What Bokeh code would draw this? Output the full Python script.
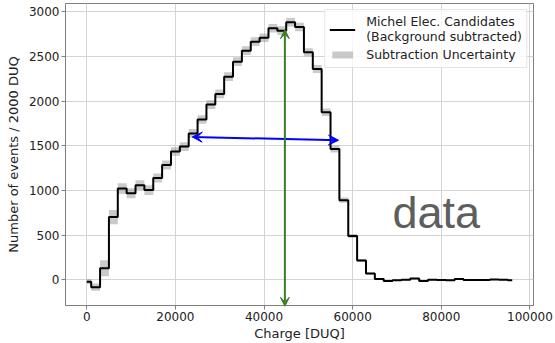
from bokeh.plotting import figure
from bokeh.models import (Range1d, FixedTicker, Legend, LegendItem, Arrow,
                          VeeHead, Label, BasicTickFormatter)
from bokeh.embed import file_html
from bokeh.resources import INLINE

# Histogram of Michel electron candidate charge, 2000 DUQ bins (bin centres)
bin_centers = list(range(0, 96001, 2000))
counts = [
    -20, -82, 130, 703, 1022, 970, 1060, 1005, 1140, 1285,
    1438, 1492, 1640, 1795, 1962, 2082, 2275, 2443, 2566, 2667,
    2711, 2816, 2790, 2885, 2830, 2548, 2361, 1877, 1465, 892,
    492, 218, 70, 10, -12, -3, 2, 15, -12, 2,
    -2, -5, 10, -2, -2, -2, 5, 0, -3,
]
# Half-width of the background-subtraction uncertainty per bin
uncertainty = [
    30, 40, 90, 80, 60, 55, 55, 55, 50, 50,
    48, 48, 48, 48, 48, 48, 48, 48, 48, 48,
    48, 48, 48, 48, 48, 45, 45, 42, 38, 30,
    22, 15, 10, 5, 5, 5, 5, 5, 5, 5,
    5, 5, 5, 5, 5, 5, 5, 5, 5,
]
x_ticks = [0, 20000, 40000, 60000, 80000, 100000]
y_ticks = [0, 500, 1000, 1500, 2000, 2500, 3000]

# Width markers: horizontal span and vertical peak position
width_arrow = dict(x_start=23800, y_start=1600, x_end=56800, y_end=1563)
peak_arrow = dict(x=44700, y_top=2800, y_bottom=-295)

band_lo = [c - u for c, u in zip(counts, uncertainty)]
band_hi = [c + u for c, u in zip(counts, uncertainty)]

FONT = "DejaVu Sans"

p = figure(width=555, height=343, output_backend="svg", toolbar_location=None,
           x_range=Range1d(-4800, 100800), y_range=Range1d(-287, 3094),
           min_border_left=65, min_border_right=22, min_border_top=3,
           min_border_bottom=37)

band = p.varea_step(x=bin_centers, y1=band_lo, y2=band_hi, step_mode="center",
                    fill_color="#808080", fill_alpha=0.42)
line = p.step(x=bin_centers, y=counts, mode="center", line_color="black",
              line_width=2)

# Axes styling
for ax in (p.xaxis[0], p.yaxis[0]):
    ax.axis_line_color = "#808080"
    ax.major_tick_line_color = "#808080"
    ax.major_tick_out = 4
    ax.major_tick_in = 0
    ax.minor_tick_line_color = None
    ax.major_label_text_font = FONT
    ax.major_label_text_font_size = "12px"
    ax.major_label_text_color = "#222222"
    ax.axis_label_text_font = FONT
    ax.axis_label_text_font_size = "13px"
    ax.axis_label_text_font_style = "normal"
    ax.axis_label_text_color = "#222222"
    ax.major_label_standoff = 2
    ax.formatter = BasicTickFormatter(use_scientific=False)

p.xaxis.ticker = FixedTicker(ticks=x_ticks)
p.yaxis.ticker = FixedTicker(ticks=y_ticks)
p.xaxis.axis_label = "Charge [DUQ]"
p.yaxis.axis_label = "Number of events / 2000 DUQ"
p.xaxis.axis_label_standoff = 2
p.yaxis.axis_label_standoff = 5

p.xgrid.ticker = FixedTicker(ticks=x_ticks)
p.ygrid.ticker = FixedTicker(ticks=y_ticks)
p.grid.grid_line_color = "#d4d4d4"
p.grid.grid_line_width = 1

p.outline_line_color = "#808080"
p.outline_line_width = 1
p.background_fill_color = "white"
p.border_fill_color = "white"

# Double-headed arrows
blue_head = dict(size=10, fill_color="blue", line_color="blue", line_width=1)
p.add_layout(Arrow(x_start=width_arrow["x_start"], y_start=width_arrow["y_start"],
                   x_end=width_arrow["x_end"], y_end=width_arrow["y_end"],
                   start=VeeHead(**blue_head), end=VeeHead(**blue_head),
                   line_color="blue", line_width=2))
green = "#3a7d22"
green_head = dict(size=9, fill_color=green, line_color=green, line_width=1)
p.add_layout(Arrow(x_start=peak_arrow["x"], y_start=peak_arrow["y_bottom"],
                   x_end=peak_arrow["x"], y_end=peak_arrow["y_top"],
                   start=VeeHead(**green_head), end=VeeHead(**green_head),
                   line_color=green, line_width=2))

p.add_layout(Label(x=69000, y=750, text="data", text_font="Liberation Sans",
                   text_font_size="45px", text_color="#5e5e5e",
                   text_baseline="alphabetic", text_align="left"))

legend = Legend(items=[
    LegendItem(label="Michel Elec. Candidates\n(Background subtracted)", renderers=[line]),
    LegendItem(label="Subtraction Uncertainty", renderers=[band]),
], location="top_right")
legend.label_text_font = FONT
legend.label_text_font_size = "12.5px"
legend.label_text_color = "#222222"
legend.label_text_line_height = 1.1
legend.glyph_width = 26
legend.glyph_height = 9
legend.label_height = 17
legend.label_standoff = 11
legend.padding = 4
legend.spacing = 2
legend.margin = 6
legend.border_line_color = "#cccccc"
legend.border_line_width = 1
legend.background_fill_alpha = 0.8
p.add_layout(legend)

open("out.html", "w").write(file_html(p, INLINE))
